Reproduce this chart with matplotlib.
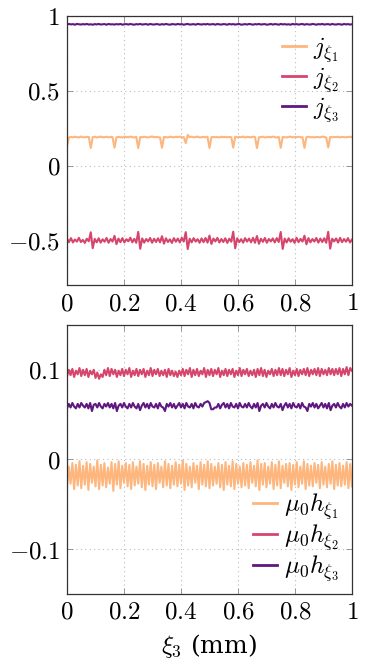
import numpy as np
import matplotlib
matplotlib.use("Agg")
import matplotlib.pyplot as plt

plt.rcParams['mathtext.fontset'] = 'cm'
plt.rcParams['font.family'] = ['DejaVu Serif']

# ---------------- data ----------------
top_ylim = (-0.8, 1.0)
bot_ylim = (-0.15, 0.15)
x_ticks = [0, 0.2, 0.4, 0.6, 0.8, 1]
x_tick_labels = ["0", "0.2", "0.4", "0.6", "0.8", "1"]
top_y_ticks = [-0.5, 0, 0.5, 1]
top_y_tick_labels = ["-0.5", "0", "0.5", "1"]
bot_y_ticks = [-0.1, 0, 0.1]
bot_y_tick_labels = ["-0.1", "0", "0.1"]

top_labels = [r"$j_{\xi_1}$", r"$j_{\xi_2}$", r"$j_{\xi_3}$"]
bot_labels = [r"$\mu_0 h_{\xi_1}$", r"$\mu_0 h_{\xi_2}$", r"$\mu_0 h_{\xi_3}$"]
x_label = r"$\xi_3$ (mm)"

j1 = [0.130,0.188,0.192,0.189,0.193,0.190,0.188,0.194,0.190,0.189,0.192,0.191,
      0.118,0.190,0.193,0.188,0.191,0.194,0.189,0.190,0.193,0.188,0.192,0.190,
      0.120,0.189,0.192,0.190,0.188,0.193,0.191,0.189,0.194,0.190,0.188,0.192,
      0.117,0.191,0.189,0.193,0.190,0.188,0.192,0.195,0.189,0.191,0.190,0.188,
      0.119,0.192,0.190,0.188,0.193,0.191,0.189,0.192,0.190,0.194,0.188,0.191,
      0.150,0.205,0.190,0.193,0.189,0.191,0.194,0.188,0.190,0.192,0.189,0.193,
      0.118,0.190,0.192,0.189,0.191,0.188,0.193,0.190,0.192,0.189,0.191,0.190,
      0.120,0.193,0.189,0.191,0.190,0.194,0.188,0.192,0.190,0.189,0.193,0.191,
      0.117,0.189,0.191,0.193,0.188,0.190,0.192,0.189,0.194,0.190,0.188,0.192,
      0.119,0.191,0.190,0.188,0.192,0.193,0.189,0.191,0.190,0.193,0.189,0.190,
      0.118,0.190,0.193,0.189,0.191,0.188,0.192,0.190,0.189,0.194,0.191,0.188,
      0.121,0.192,0.189,0.191,0.190,0.193,0.188,0.192,0.190,0.189,0.191,0.193,
      0.190]

j2 = [-0.488,-0.512,-0.485,-0.514,-0.494,-0.508,-0.483,-0.511,-0.497,-0.517,-0.489,-0.506,
      -0.446,-0.552,-0.490,-0.513,-0.486,-0.515,-0.493,-0.509,-0.484,-0.516,-0.491,-0.508,
      -0.470,-0.525,-0.488,-0.512,-0.485,-0.514,-0.492,-0.506,-0.482,-0.513,-0.490,-0.516,
      -0.443,-0.556,-0.487,-0.515,-0.491,-0.507,-0.484,-0.516,-0.489,-0.511,-0.486,-0.513,
      -0.472,-0.522,-0.486,-0.511,-0.493,-0.517,-0.485,-0.509,-0.488,-0.514,-0.483,-0.508,
      -0.445,-0.558,-0.489,-0.513,-0.485,-0.508,-0.492,-0.516,-0.487,-0.512,-0.484,-0.515,
      -0.468,-0.524,-0.488,-0.507,-0.483,-0.514,-0.491,-0.511,-0.486,-0.517,-0.489,-0.509,
      -0.442,-0.553,-0.486,-0.512,-0.492,-0.515,-0.485,-0.508,-0.488,-0.513,-0.483,-0.516,
      -0.471,-0.523,-0.489,-0.510,-0.484,-0.516,-0.491,-0.507,-0.487,-0.514,-0.485,-0.511,
      -0.444,-0.557,-0.488,-0.514,-0.486,-0.509,-0.492,-0.517,-0.483,-0.512,-0.490,-0.508,
      -0.469,-0.526,-0.485,-0.513,-0.491,-0.508,-0.484,-0.515,-0.488,-0.511,-0.486,-0.516,
      -0.443,-0.555,-0.489,-0.507,-0.487,-0.515,-0.483,-0.512,-0.491,-0.509,-0.485,-0.514,
      -0.495]

j3 = [0.943,0.947,0.944,0.946,0.942,0.947,0.945,0.943,0.946,0.944,0.947,0.943,
      0.945,0.942,0.946,0.944,0.947,0.943,0.945,0.946,0.942,0.947,0.944,0.945,
      0.943,0.946,0.944,0.947,0.942,0.945,0.946,0.943,0.947,0.944,0.942,0.946,
      0.944,0.947,0.943,0.945,0.946,0.942,0.947,0.944,0.943,0.946,0.945,0.942,
      0.946,0.943,0.947,0.944,0.942,0.946,0.945,0.943,0.947,0.944,0.946,0.942,
      0.945,0.947,0.943,0.944,0.946,0.942,0.947,0.945,0.943,0.946,0.944,0.947,
      0.943,0.945,0.946,0.942,0.947,0.944,0.943,0.946,0.945,0.942,0.947,0.944,
      0.946,0.943,0.945,0.947,0.942,0.944,0.946,0.943,0.947,0.945,0.942,0.946,
      0.944,0.947,0.943,0.945,0.946,0.942,0.944,0.947,0.943,0.946,0.945,0.942,
      0.947,0.944,0.946,0.943,0.945,0.942,0.947,0.944,0.946,0.943,0.945,0.947,
      0.942,0.946,0.944,0.943,0.947,0.945,0.942,0.946,0.944,0.947,0.943,0.945,
      0.946,0.942,0.947,0.944,0.943,0.946,0.945,0.942,0.947,0.944,0.946,0.943,
      0.945]

h1 = [-0.031,-0.008,-0.027,-0.004,-0.033,-0.006,-0.029,-0.002,-0.032,-0.007,
      -0.028,-0.003,-0.034,-0.005,-0.026,-0.008,-0.030,-0.001,-0.033,-0.006,
      -0.029,-0.004,-0.031,-0.009,-0.027,-0.003,-0.035,-0.005,-0.028,-0.002,
      -0.032,-0.007,-0.026,-0.004,-0.030,-0.006,-0.033,-0.003,-0.029,-0.008,
      -0.027,-0.002,-0.031,-0.005,-0.034,-0.007,-0.028,-0.003,-0.030,-0.006,
      -0.033,-0.004,-0.026,-0.008,-0.031,-0.002,-0.029,-0.005,-0.032,-0.007,
      -0.028,-0.003,-0.030,-0.006,-0.027,-0.001,-0.034,-0.005,-0.029,-0.008,
      -0.031,-0.004,-0.026,-0.007,-0.033,-0.003,-0.028,-0.006,-0.030,-0.002,
      -0.032,-0.005,-0.029,-0.008,-0.027,-0.004,-0.031,-0.006,-0.034,-0.003,
      -0.028,-0.007,-0.030,-0.002,-0.033,-0.005,-0.027,-0.008,-0.031,-0.004,
      -0.029,-0.006,-0.032,-0.003,-0.026,-0.007,-0.030,-0.001,-0.034,-0.005,
      -0.028,-0.004,-0.031,-0.008,-0.027,-0.003,-0.033,-0.006,-0.029,-0.002,
      -0.032,-0.007,-0.026,-0.005,-0.030,-0.004,-0.034,-0.006,-0.028,-0.003,
      -0.031,-0.008,-0.027,-0.002,-0.033,-0.005,-0.029,-0.007,-0.030,-0.004,
      -0.026,-0.006,-0.032,-0.003,-0.028,-0.008,-0.031,-0.005,-0.027,-0.002,
      -0.033,-0.006,-0.029,-0.004,-0.030,-0.007,-0.028,-0.003,-0.032,-0.005,
      -0.030]

h2 = [0.093,0.100,0.094,0.101,0.092,0.099,0.095,0.102,0.093,0.100,
      0.094,0.101,0.092,0.099,0.095,0.100,0.091,0.097,0.090,0.095,
      0.092,0.100,0.094,0.102,0.093,0.101,0.095,0.100,0.092,0.099,
      0.094,0.101,0.093,0.100,0.095,0.102,0.092,0.099,0.094,0.101,
      0.093,0.100,0.095,0.101,0.092,0.099,0.094,0.102,0.093,0.100,
      0.095,0.101,0.093,0.099,0.094,0.100,0.092,0.101,0.094,0.099,
      0.093,0.098,0.092,0.099,0.094,0.101,0.093,0.100,0.095,0.102,
      0.092,0.100,0.094,0.101,0.093,0.099,0.095,0.102,0.092,0.100,
      0.094,0.101,0.093,0.100,0.095,0.102,0.092,0.099,0.094,0.101,
      0.093,0.100,0.095,0.101,0.092,0.099,0.094,0.102,0.093,0.100,
      0.095,0.101,0.093,0.099,0.094,0.100,0.092,0.101,0.094,0.102,
      0.093,0.100,0.092,0.099,0.095,0.101,0.093,0.100,0.094,0.102,
      0.094,0.101,0.093,0.100,0.095,0.102,0.092,0.099,0.094,0.101,
      0.093,0.100,0.095,0.101,0.094,0.102,0.093,0.100,0.095,0.101,
      0.094,0.102,0.093,0.101,0.095,0.100,0.094,0.102,0.095,0.101,
      0.094,0.101,0.095,0.102,0.093,0.101,0.095,0.103,0.094,0.102,
      0.099]

h3 = [0.057,0.062,0.058,0.063,0.059,0.057,0.062,0.058,0.063,0.060,
      0.058,0.062,0.057,0.063,0.054,0.061,0.062,0.058,0.063,0.059,
      0.057,0.062,0.059,0.063,0.058,0.062,0.057,0.063,0.054,0.060,
      0.062,0.058,0.063,0.059,0.057,0.062,0.058,0.063,0.059,0.057,
      0.062,0.055,0.060,0.063,0.058,0.062,0.057,0.063,0.059,0.058,
      0.062,0.057,0.063,0.059,0.058,0.054,0.062,0.059,0.063,0.058,
      0.062,0.057,0.060,0.063,0.058,0.062,0.057,0.063,0.059,0.058,
      0.062,0.057,0.063,0.059,0.058,0.062,0.059,0.063,0.064,0.065,
      0.063,0.056,0.056,0.058,0.058,0.062,0.057,0.061,0.063,0.058,
      0.062,0.057,0.063,0.059,0.058,0.062,0.057,0.063,0.059,0.058,
      0.062,0.058,0.063,0.059,0.057,0.062,0.058,0.063,0.054,0.060,
      0.062,0.058,0.063,0.059,0.057,0.062,0.058,0.063,0.059,0.058,
      0.062,0.055,0.060,0.063,0.058,0.062,0.057,0.063,0.059,0.058,
      0.062,0.057,0.063,0.059,0.058,0.054,0.062,0.059,0.063,0.058,
      0.062,0.057,0.060,0.063,0.058,0.062,0.057,0.063,0.055,0.060,
      0.062,0.058,0.063,0.059,0.057,0.062,0.058,0.063,0.059,0.062,
      0.060]

x_top = np.linspace(0, 1, len(j1))
x_bot = np.linspace(0, 1, len(h1))

colors = ['#fdb67d', '#d6456c', '#5f187f']

# ---------------- figure ----------------
fig = plt.figure(figsize=(3.67, 6.68), dpi=100)
ax1 = fig.add_axes([0.1826, 0.573, 0.7764, 0.403])
ax2 = fig.add_axes([0.1826, 0.1108, 0.7764, 0.4027])

FS = 18

def style(ax, yticks, ylabels):
    ax.set_xlim(0, 1)
    ax.set_xticks(x_ticks)
    ax.set_xticklabels([f"${t}$" for t in x_tick_labels], fontsize=FS)
    ax.set_yticks(yticks)
    ax.set_yticklabels([f"${t}$" for t in ylabels], fontsize=FS)
    ax.tick_params(direction='in', length=4, width=0.6, color='#888888',
                   top=True, right=True, pad=5)
    ax.grid(True, color='#bbbbbb', linestyle=(0, (1, 3)), linewidth=0.8)
    for s in ax.spines.values():
        s.set_color('#333333')
        s.set_linewidth(0.9)

for y, c, lab in zip([j1, j2, j3], colors, top_labels):
    ax1.plot(x_top, y, color=c, lw=1.5, label=lab)
ax1.set_ylim(*top_ylim)
style(ax1, top_y_ticks, top_y_tick_labels)
leg1 = ax1.legend(loc='upper right', bbox_to_anchor=(0.99, 0.965), fontsize=FS,
                  frameon=False,
                  handlelength=0.95, handletextpad=0.3, labelspacing=0.0,
                  borderpad=0.2, borderaxespad=0.2)
for l in leg1.get_lines():
    l.set_linewidth(2.0)

for y, c, lab in zip([h1, h2, h3], colors, bot_labels):
    ax2.plot(x_bot, y, color=c, lw=1.5, label=lab)
ax2.set_ylim(*bot_ylim)
style(ax2, bot_y_ticks, bot_y_tick_labels)
leg2 = ax2.legend(loc='lower right', bbox_to_anchor=(0.99, 0.0), fontsize=FS,
                  frameon=False,
                  handlelength=0.95, handletextpad=0.3, labelspacing=0.0,
                  borderpad=0.2, borderaxespad=0.2)
for l in leg2.get_lines():
    l.set_linewidth(2.0)
ax2.set_xlabel(x_label, fontsize=FS, family='DejaVu Serif', labelpad=6)

fig.savefig("out.png", dpi=100)
